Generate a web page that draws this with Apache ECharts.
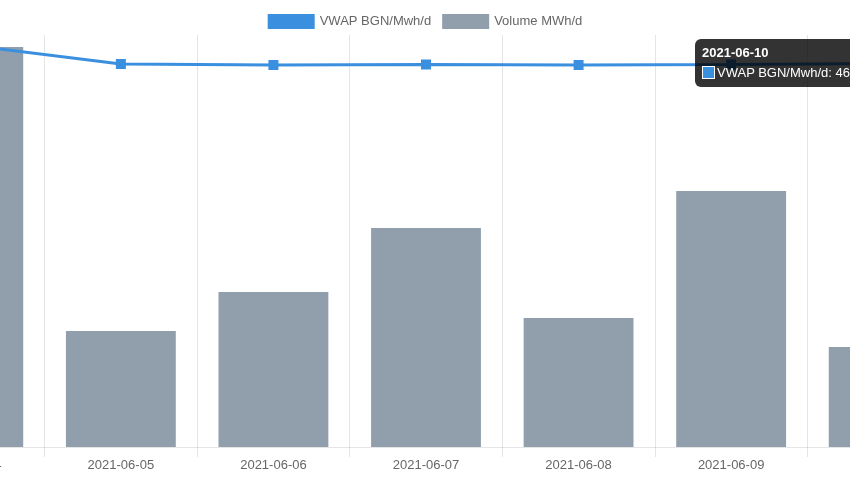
<!DOCTYPE html>
<html>
<head>
<meta charset="utf-8">
<script src="https://cdn.jsdelivr.net/npm/echarts@6/dist/echarts.min.js"></script>
<style>
html,body{margin:0;padding:0;overflow:hidden;background:#fff;}
#chart{width:850px;height:480px;overflow:hidden;position:relative;}
</style>
</head>
<body>
<div id="chart"></div>
<script>
var categories = ['2021-06-04','2021-06-05','2021-06-06','2021-06-07','2021-06-08','2021-06-09','2021-06-10'];
var vwap = [48.79, 46.48, 46.36, 46.42, 46.36, 46.42, 46.54];
var volume = [2000, 580, 775, 1095, 645, 1280, 500];
var seriesNames = ['VWAP BGN/Mwh/d', 'Volume MWh/d'];

var FONT = 'Liberation Sans, Arial, Helvetica, sans-serif';
var BLUE = '#3a8fdf';
var GRAY = '#909fab';

var chart = echarts.init(document.getElementById('chart'), null, {renderer:'canvas'});
chart.setOption({
  animation: false,
  textStyle: {fontFamily: FONT},
  legend: {
    top: 9,
    left: 'center',
    itemWidth: 47,
    itemHeight: 15,
    itemGap: 11,
    icon: 'rect',
    textStyle: {color: '#666', fontSize: 13, fontFamily: FONT, padding: [0,0,0,0]},
    data: [
      {name: seriesNames[0], itemStyle: {color: BLUE}},
      {name: seriesNames[1], itemStyle: {color: GRAY}}
    ]
  },
  grid: {left: -108, right: -110, top: 35, bottom: 33, containLabel: false, outerBoundsMode: 'none'},
  tooltip: {
    trigger: 'item',
    triggerOn: 'none',
    alwaysShowContent: true,
    transitionDuration: 0,
    backgroundColor: 'rgba(0,0,0,0.8)',
    borderWidth: 0,
    padding: [6, 7, 6, 7],
    extraCssText: 'white-space:nowrap;border-radius:6px;box-shadow:none;',
    textStyle: {color: '#fff', fontSize: 13, fontFamily: FONT},
    position: function () { return [695, 39]; },
    formatter: function (p) {
      return '<div style="font-weight:bold;line-height:16px;margin-bottom:4px;">' + p.name + '</div>' +
        '<div style="line-height:16px;"><span style="display:inline-block;box-sizing:border-box;width:13px;height:13px;background:' + BLUE +
        ';border:1px solid #fff;vertical-align:-2px;margin-right:2px;"></span>' + p.seriesName + ': ' + p.value + '</div>';
    }
  },
  xAxis: {
    type: 'category',
    data: categories,
    boundaryGap: true,
    axisLine: {show: true, lineStyle: {color: 'rgba(0,0,0,0.1)', width: 1}},
    axisTick: {show: true, length: 10, lineStyle: {color: 'rgba(0,0,0,0.1)'}},
    axisLabel: {color: '#666', fontSize: 13, fontFamily: FONT, margin: 12},
    splitLine: {show: true, lineStyle: {color: 'rgba(0,0,0,0.1)', width: 1}}
  },
  yAxis: [
    {type: 'value', min: 0, max: 50, show: false, splitLine: {show: false}},
    {type: 'value', min: 0, max: 2060, show: false, splitLine: {show: false}}
  ],
  series: [
    {
      name: seriesNames[0],
      type: 'line',
      yAxisIndex: 0,
      data: vwap,
      z: 5,
      symbol: 'rect',
      symbolSize: 10,
      showSymbol: true,
      color: BLUE,
      itemStyle: {color: BLUE},
      lineStyle: {color: BLUE, width: 3},
      clip: false
    },
    {
      name: seriesNames[1],
      type: 'bar',
      yAxisIndex: 1,
      data: volume,
      z: 2,
      barWidth: '72%',
      color: GRAY,
      itemStyle: {color: GRAY}
    }
  ]
});
setTimeout(function(){
  chart.dispatchAction({type: 'showTip', seriesIndex: 0, dataIndex: 6});
}, 50);
</script>
</body>
</html>
